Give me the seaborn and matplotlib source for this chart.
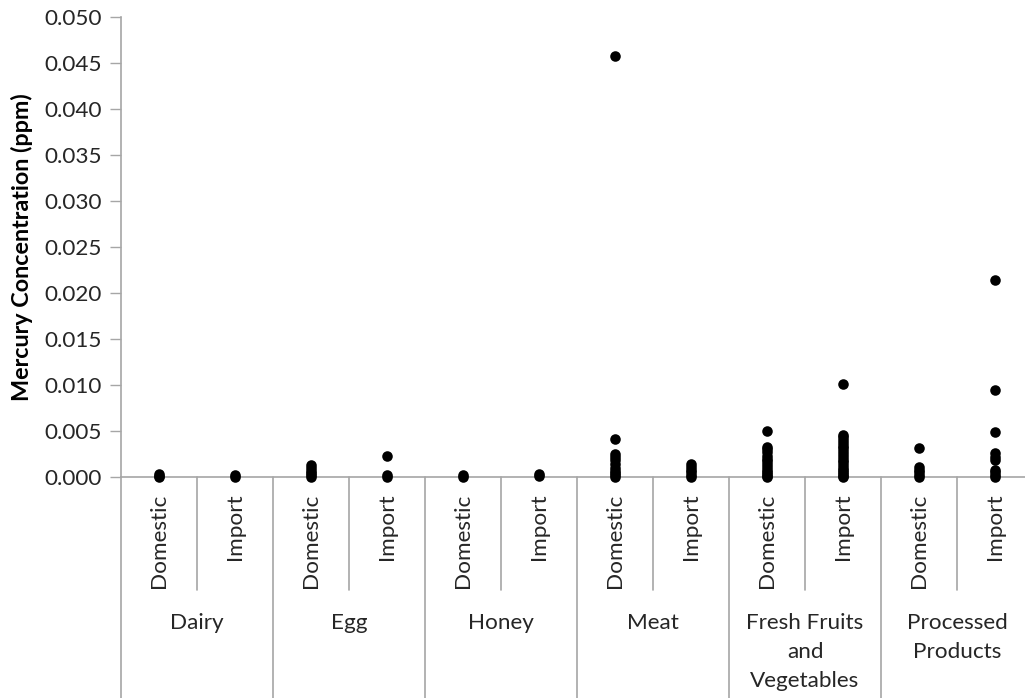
import matplotlib
matplotlib.use("Agg")
import matplotlib.pyplot as plt
import matplotlib.transforms as mtransforms
import seaborn as sns
import pandas as pd

# ---- data ----
groups = ["Dairy", "Egg", "Honey", "Meat", "Fresh Fruits\nand\nVegetables", "Processed\nProducts"]
sources = ["Domestic", "Import"]

dairy_domestic = [0.0003, 0.0001, 0.0]
dairy_import = [0.0002, 0.0]
egg_domestic = [0.0013, 0.0010, 0.0007, 0.0004, 0.0002, 0.0]
egg_import = [0.0023, 0.0002, 0.0]
honey_domestic = [0.0002, 0.0]
honey_import = [0.0003, 0.0001]
meat_domestic = [0.0458, 0.0041, 0.0025, 0.0022, 0.0018, 0.0014, 0.0010, 0.0007, 0.0004, 0.0002, 0.0]
meat_import = [0.0014, 0.0011, 0.0008, 0.0005, 0.0002, 0.0]
ffv_domestic = [0.0050, 0.0033, 0.0030, 0.0027, 0.0023, 0.0020, 0.0017, 0.0014, 0.0011,
                0.0008, 0.0005, 0.0003, 0.0001, 0.0]
ffv_import = [0.0101, 0.0046, 0.0043, 0.0040, 0.0037, 0.0034, 0.0031, 0.0028, 0.0025, 0.0022,
              0.0019, 0.0016, 0.0013, 0.0010, 0.0008, 0.0005, 0.0003, 0.0001, 0.0]
pp_domestic = [0.0032, 0.0011, 0.0008, 0.0005, 0.0002, 0.0]
pp_import = [0.0214, 0.0095, 0.0049, 0.0026, 0.0022, 0.0018, 0.0008, 0.0005, 0.0002, 0.0]

series = [
    (dairy_domestic, dairy_import),
    (egg_domestic, egg_import),
    (honey_domestic, honey_import),
    (meat_domestic, meat_import),
    (ffv_domestic, ffv_import),
    (pp_domestic, pp_import),
]

ytick_values = [0.000, 0.005, 0.010, 0.015, 0.020, 0.025, 0.030, 0.035, 0.040, 0.045, 0.050]

rows = []
order = []
for g, pair in zip(groups, series):
    for s, vals in zip(sources, pair):
        key = f"{g}|{s}"
        order.append(key)
        for v in vals:
            rows.append({"slot": key, "value": v})
df = pd.DataFrame(rows)

# ---- styling ----
sns.set_theme(style="white")
plt.rcParams["font.family"] = ["Lato", "DejaVu Sans"]
GRAY = "#a6a6a6"
TXT = "#262626"
FS = 16.2

fig = plt.figure(figsize=(10.25, 6.98), dpi=100)
ax = fig.add_axes([121 / 1025, 1 - 477 / 698, 912 / 1025, 460 / 698])

sns.stripplot(data=df, x="slot", y="value", order=order, jitter=False,
              color="black", size=7.6, linewidth=0, ax=ax, zorder=3, clip_on=False)

ax.set_xlim(-0.5, len(order) - 0.5)
ax.set_ylim(0, 0.05)
ax.set_yticks(ytick_values)
ax.set_yticklabels([f"{v:.3f}" for v in ytick_values], fontsize=FS, color=TXT)
ax.tick_params(axis="y", which="both", direction="out", length=8, width=1,
               color=GRAY, pad=6, left=True)

ax.set_xticks(range(len(order)))
ax.set_xticklabels([k.split("|")[1] for k in order], rotation=90, fontsize=FS, color=TXT)
ax.tick_params(axis="x", length=0, pad=12)
ax.set_xlabel("")
ax.set_ylabel("Mercury Concentration (ppm)", fontsize=16.8, fontweight="bold", color="black")
ax.yaxis.set_label_coords(-0.096, 0.5)

for side in ["top", "right"]:
    ax.spines[side].set_visible(False)
for side in ["left", "bottom"]:
    ax.spines[side].set_color(GRAY)
    ax.spines[side].set_linewidth(1.2)

trans = mtransforms.blended_transform_factory(ax.transData, ax.transAxes)
# sub separators between Domestic and Import
for i in range(len(groups)):
    x = 2 * i + 0.5
    ax.plot([x, x], [0, -0.246], transform=trans, color=GRAY, lw=1.2, clip_on=False)
# group separators
for i in range(len(groups) + 1):
    x = 2 * i - 0.5
    ax.plot([x, x], [0, -0.52], transform=trans, color=GRAY, lw=1.2, clip_on=False)
# group labels
for i, g in enumerate(groups):
    ax.text(2 * i + 0.5, -0.296, g, transform=trans, ha="center", va="top",
            fontsize=FS, color=TXT, linespacing=1.55)

fig.savefig("out.png", dpi=100)
